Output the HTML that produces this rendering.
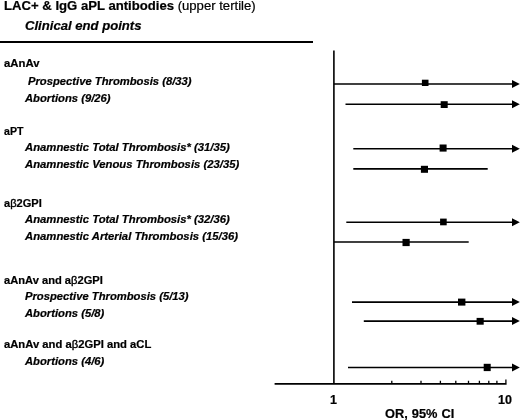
<!DOCTYPE html>
<html><head><meta charset="utf-8">
<style>
html,body{margin:0;padding:0;background:#fff;}
body{width:520px;height:420px;position:relative;overflow:hidden;font-family:"Liberation Sans",Arial,sans-serif;color:#000;}
.t{position:absolute;white-space:nowrap;line-height:1;transform-origin:0 0;-webkit-text-stroke:0.2px #000;}
.h{font-weight:bold;}
.i{font-weight:bold;font-style:italic;}
.b{font-weight:normal;-webkit-text-stroke:0.35px #000;}
svg{position:absolute;left:0;top:0;}
</style></head><body>
<div class="t" style="left:4.4px;top:0px;font-size:12.1px;transform:translateY(0.41px) rotate(0.001deg) scaleX(1.085);"><b>LAC+ &amp; IgG aPL antibodies</b> (upper tertile)</div>
<div class="t" style="left:25px;top:20px;font-size:12.25px;font-weight:bold;font-style:italic;transform:translateY(0.28px) rotate(0.001deg) scaleX(1.07);">Clinical end points</div>
<div class="t h" style="left:4px;top:59px;font-size:10.4px;transform:translateY(0.1px) rotate(0.001deg) scaleX(1.09);">aAnAv</div>
<div class="t i" style="left:28px;top:76px;font-size:10.4px;transform:translateY(1px) rotate(0.001deg) scaleX(1.081);">Prospective Thrombosis (8/33)</div>
<div class="t i" style="left:25px;top:93px;font-size:10.4px;transform:translateY(0.9px) rotate(0.001deg) scaleX(1.081);">Abortions (9/26)</div>
<div class="t h" style="left:4px;top:126px;font-size:10.4px;transform:translateY(0.95px) rotate(0.001deg) scaleX(1.02);">aPT</div>
<div class="t i" style="left:25px;top:142px;font-size:10.4px;transform:translateY(1px) rotate(0.001deg) scaleX(1.087);">Anamnestic Total Thrombosis* (31/35)</div>
<div class="t i" style="left:25px;top:159px;font-size:10.4px;transform:translateY(0.7px) rotate(0.001deg) scaleX(1.087);">Anamnestic Venous Thrombosis (23/35)</div>
<div class="t h" style="left:4px;top:199px;font-size:10.4px;transform:translateY(0.2px) rotate(0.001deg) scaleX(1.065);">a<span class="b">β</span>2GPI</div>
<div class="t i" style="left:25px;top:215px;font-size:10.4px;transform:translateY(0.3px) rotate(0.001deg) scaleX(1.087);">Anamnestic Total Thrombosis* (32/36)</div>
<div class="t i" style="left:25px;top:231px;font-size:10.4px;transform:translateY(0.9px) rotate(0.001deg) scaleX(1.087);">Anamnestic Arterial Thrombosis (15/36)</div>
<div class="t h" style="left:4px;top:275px;font-size:10.4px;transform:translateY(0.8px) rotate(0.001deg) scaleX(1.072);">aAnAv and a<span class="b">β</span>2GPI</div>
<div class="t i" style="left:25px;top:291px;font-size:10.4px;transform:translateY(0.9px) rotate(0.001deg) scaleX(1.081);">Prospective Thrombosis (5/13)</div>
<div class="t i" style="left:25px;top:309px;font-size:10.4px;transform:translateY(0.1px) rotate(0.001deg) scaleX(1.081);">Abortions (5/8)</div>
<div class="t h" style="left:4px;top:339px;font-size:10.4px;transform:translateY(0.6px) rotate(0.001deg) scaleX(1.082);">aAnAv and a<span class="b">β</span>2GPI and aCL</div>
<div class="t i" style="left:25px;top:356px;font-size:10.4px;transform:translateY(0.5px) rotate(0.001deg) scaleX(1.081);">Abortions (4/6)</div>
<div class="t" style="left:330.2px;top:393px;font-size:12.5px;font-weight:bold;transform:translateY(0.97px) rotate(0.001deg);">1</div>
<div class="t" style="left:498px;top:393px;font-size:12.5px;font-weight:bold;transform:translateY(0.97px) rotate(0.001deg);">10</div>
<div class="t" style="left:385px;top:407px;font-size:12.8px;word-spacing:0.5px;font-weight:bold;transform:translateY(0.86px) rotate(0.001deg);">OR, 95% CI</div>
<svg width="520" height="420" viewBox="0 0 520 420">
<g stroke="#000" stroke-width="1.7" fill="none">
<line x1="0" y1="42" x2="313" y2="42" stroke-width="1.9"/>
<line x1="333.9" y1="50.5" x2="333.9" y2="384" stroke-width="1.6"/>
<line x1="274.6" y1="383.9" x2="506.6" y2="383.9"/>
</g>
<path d="M391.8 383V380.7M421 383V380.7M440.4 383V380.7M455.8 383V380.7M468.5 383V380.7M479.4 383V380.7M488.8 383V380.7M496.9 383V380.7M505.9 383V379.5" stroke="#000" stroke-width="1.3" fill="none"/>
<g stroke="#000" stroke-width="1.6" fill="none">
<line x1="334" y1="84" x2="512.5" y2="84"/>
<line x1="345.5" y1="104.2" x2="512.5" y2="104.2"/>
<line x1="353.3" y1="148.7" x2="512.5" y2="148.7"/>
<line x1="353.3" y1="168.9" x2="487.7" y2="168.9"/>
<line x1="346.3" y1="222.2" x2="512.5" y2="222.2"/>
<line x1="334" y1="242" x2="468.7" y2="242"/>
<line x1="352" y1="302.1" x2="512.5" y2="302.1"/>
<line x1="363.8" y1="321.1" x2="512.5" y2="321.1"/>
<line x1="348" y1="367.5" x2="512.5" y2="367.5"/>
</g>
<g fill="#000">
<path d="M519.8 84l-7.8-4v8z"/>
<path d="M519.8 104.2l-7.8-4v8z"/>
<path d="M519.8 148.7l-7.8-4v8z"/>
<path d="M519.8 222.2l-7.8-4v8z"/>
<path d="M519.8 302.1l-7.8-4v8z"/>
<path d="M519.8 321.1l-7.8-4v8z"/>
<path d="M519.8 367.5l-7.8-4v8z"/>
<rect x="421.9" y="79.7" width="6.6" height="6.3"/>
<rect x="440.7" y="101.2" width="7" height="6.8"/>
<rect x="439.6" y="144.5" width="7" height="7.1"/>
<rect x="420.9" y="165.8" width="7.1" height="7"/>
<rect x="440.1" y="218.6" width="6.6" height="6.7"/>
<rect x="402.5" y="238.9" width="7.2" height="7.2"/>
<rect x="458" y="298.6" width="7.4" height="7"/>
<rect x="476.6" y="317.9" width="7.1" height="6.8"/>
<rect x="483.7" y="363.8" width="7" height="7.3"/>
</g>
</svg>
</body></html>
